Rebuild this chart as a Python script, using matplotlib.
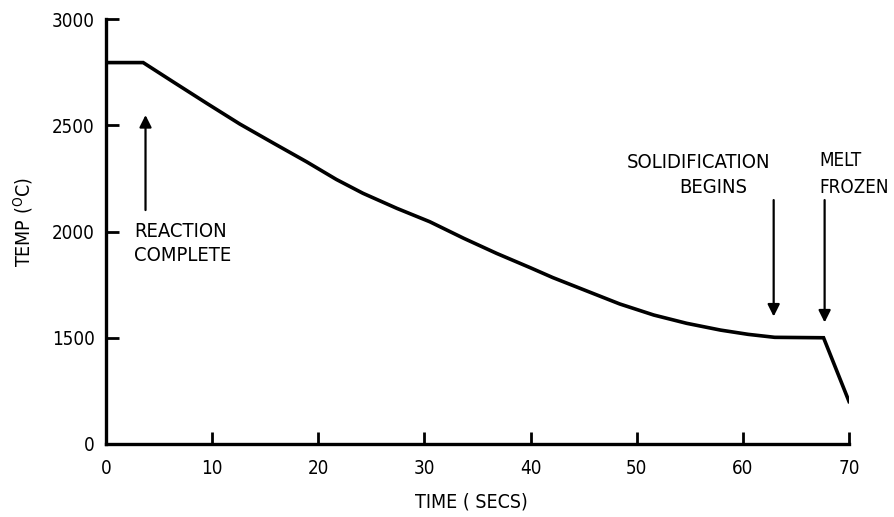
import matplotlib
matplotlib.use('Agg')
import matplotlib.pyplot as plt

# Cooling curve of the melt after the reaction
time_s = [0, 3.5, 6.3, 9.5, 12.6, 15.8, 18.9, 21.7, 24.2, 27.4, 30.5, 33.7, 36.8,
          40.0, 42.1, 45.3, 48.4, 51.6, 54.7, 57.9, 60.5, 63.0, 67.6, 70]
temp_c = [2795, 2795, 2705, 2603, 2506, 2415, 2328, 2245, 2180, 2109, 2046, 1968, 1897,
          1829, 1783, 1720, 1659, 1607, 1568, 1536, 1516, 1502, 1500, 1200]

x_ticks = [0, 10, 20, 30, 40, 50, 60, 70]
# broken axis: bottom of the scale is labelled 0
y_ticks = [1000, 1500, 2000, 2500, 3000]
y_tick_labels = ['0', '1500', '2000', '2500', '3000']

plt.rcParams['font.family'] = ['DejaVu Sans']
plt.rcParams['font.stretch'] = 'condensed'

fig = plt.figure(figsize=(8.94, 5.17), dpi=100)
ax = fig.add_axes([0.1186, 0.1412, 0.8311, 0.8220])

ax.plot(time_s, temp_c, color='black', linewidth=2.6, solid_joinstyle='miter')

ax.set_xlim(0, 70)
ax.set_ylim(1000, 3000)
ax.set_xticks(x_ticks)
ax.set_yticks(y_ticks)
ax.set_yticklabels(y_tick_labels)

for side in ['top', 'right']:
    ax.spines[side].set_visible(False)
for side in ['left', 'bottom']:
    ax.spines[side].set_linewidth(2.4)

ax.tick_params(axis='both', direction='in', length=9, width=2, labelsize=13.5)
ax.tick_params(axis='x', pad=11)
ax.tick_params(axis='y', pad=8)

fig.text(0.527, 0.029, 'TIME ( SECS)', fontsize=14, ha='center', va='center')
fig.text(0.026, 0.571, 'TEMP ($^{\\mathrm{O}}$C)', fontsize=14, rotation=90,
         ha='center', va='center')

arrow_style = dict(arrowstyle='-|>', color='black', lw=1.6, mutation_scale=18,
                   shrinkA=0, shrinkB=0)

# reaction complete
ax.annotate('', xy=(3.72, 2548), xytext=(3.72, 2101), arrowprops=arrow_style)
ax.text(2.64, 2000, 'REACTION', fontsize=14.5, va='center', ha='left')
ax.text(2.64, 1885, 'COMPLETE', fontsize=14.5, va='center', ha='left')

# solidification begins
ax.annotate('', xy=(62.9, 1600), xytext=(62.9, 2148), arrowprops=arrow_style)
ax.text(55.8, 2327, 'SOLIDIFICATION', fontsize=14.5, va='center', ha='center')
ax.text(57.2, 2209, 'BEGINS', fontsize=14.5, va='center', ha='center')

# melt frozen
ax.annotate('', xy=(67.7, 1572), xytext=(67.7, 2148), arrowprops=arrow_style)
ax.text(67.2, 2336, 'MELT', fontsize=13.5, va='center', ha='left')
ax.text(67.2, 2209, 'FROZEN', fontsize=13.5, va='center', ha='left')

fig.savefig('out.png', dpi=100)
